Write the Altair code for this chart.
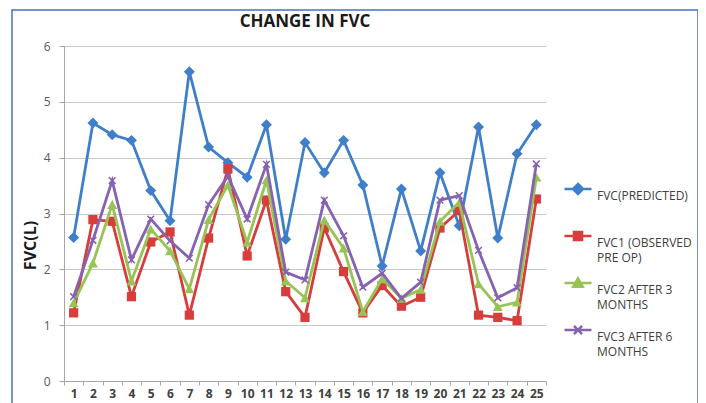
import altair as alt
import pandas as pd

cases = list(range(1, 26))
fvc_pred = [2.57, 4.62, 4.41, 4.31, 3.41, 2.87, 5.54, 4.19, 3.91, 3.65, 4.59, 2.54, 4.27,
            3.73, 4.31, 3.51, 2.06, 3.44, 2.33, 3.73, 2.78, 4.55, 2.56, 4.07, 4.59]
fvc1 = [1.22, 2.89, 2.86, 1.51, 2.49, 2.67, 1.18, 2.56, 3.80, 2.24, 3.24, 1.60, 1.14,
        2.74, 1.96, 1.22, 1.71, 1.34, 1.50, 2.74, 3.05, 1.18, 1.14, 1.08, 3.26]
fvc2 = [1.40, 2.11, 3.16, 1.79, 2.72, 2.33, 1.65, 2.89, 3.51, 2.48, 3.60, 1.79, 1.49,
        2.88, 2.38, 1.24, 1.83, 1.48, 1.64, 2.86, 3.20, 1.74, 1.33, 1.41, 3.65]
fvc3 = [1.51, 2.52, 3.59, 2.17, 2.90, 2.51, 2.20, 3.16, 3.67, 2.90, 3.88, 1.95, 1.81,
        3.24, 2.60, 1.68, 1.93, 1.48, 1.77, 3.24, 3.32, 2.34, 1.49, 1.67, 3.89]

series = ["FVC(PREDICTED)", "FVC1 (OBSERVED PRE OP)", "FVC2 AFTER 3 MONTHS", "FVC3 AFTER 6 MONTHS"]
legend_lines = [["FVC(PREDICTED)", " "], ["FVC1 (OBSERVED", "PRE OP)"],
                ["FVC2 AFTER 3", "MONTHS"], ["FVC3 AFTER 6", "MONTHS"]]
colors = ["#3f7fc9", "#d63d3b", "#97c455", "#8662b1"]
values = [fvc_pred, fvc1, fvc2, fvc3]

rows = []
for s, vals in zip(series, values):
    for c, v in zip(cases, vals):
        rows.append({"case": c, "value": v, "series": s})
df = pd.DataFrame(rows)

font = "Open Sans"

xenc = alt.X(
    "case:O",
    scale=alt.Scale(type="band", paddingInner=0, paddingOuter=0),
    bandPosition=0.5,
    axis=alt.Axis(title=None, labelAngle=0, labelFont=font, labelFontSize=12,
                  labelFontWeight="bold", labelColor="#404040", tickBand="extent",
                  tickSize=4, tickColor="#a6a6a6", domainColor="#a6a6a6", grid=False,
                  labelPadding=3),
)
yenc = alt.Y(
    "value:Q",
    scale=alt.Scale(domain=[0, 6], nice=False, zero=True),
    axis=alt.Axis(values=[0, 1, 2, 3, 4, 5, 6], grid=True, gridColor="#c9c9c9",
                  domainColor="#a6a6a6", tickColor="#a6a6a6", tickSize=5, labelPadding=9,
                  labelColor="#595959", labelFont=font, labelFontSize=12,
                  title="FVC(L)", titleFont=font, titleFontSize=16, titleFontWeight="bold",
                  titleColor="#1a1a1a", titleAngle=270, titleX=-34, titleY=199,
                  titleAlign="center", titleBaseline="middle"),
)

shapes = ["diamond", "square", "triangle-up", "M-1,-1L1,1M-1,1L1,-1"]
sizes = [120, 85, 100, 45]
filled = [True, True, True, False]

layers = []
for i, s in enumerate(series):
    sub = alt.Chart(df).transform_filter(alt.datum.series == s)
    layers.append(sub.mark_line(strokeWidth=2.8, color=colors[i]).encode(x=xenc, y=yenc))
    layers.append(sub.mark_point(shape=shapes[i], size=sizes[i], filled=filled[i], opacity=1,
                                 strokeWidth=1.6, color=colors[i]).encode(x=xenc, y=yenc))

legend_paths = [
    "M-1,-0.52L1,-0.52M0,-0.89L0.37,-0.52L0,-0.15L-0.37,-0.52Z",
    "M-1,-0.52L1,-0.52M-0.3,-0.82L0.3,-0.82L0.3,-0.22L-0.3,-0.22Z",
    "M-1,-0.52L1,-0.52M0,-0.87L0.35,-0.25L-0.35,-0.25Z",
    "M-1,-0.52L1,-0.52M-0.3,-0.82L0.3,-0.22M-0.3,-0.22L0.3,-0.82",
]

expr = "''"
for s, lines in reversed(list(zip(series, legend_lines))):
    arr = "[" + ",".join("'" + l + "'" for l in lines) + "]"
    expr = f"datum.label == '{s}' ? {arr} : ({expr})"

leg = alt.Legend(title=None, orient="none", legendX=499, legendY=135, direction="vertical",
                 labelFont=font, labelFontSize=12, labelColor="#404040", labelOffset=4,
                 rowPadding=9, symbolSize=729, symbolStrokeWidth=2.5, labelExpr=expr,
                 labelLimit=200)

legend_layer = alt.Chart(df).transform_filter("false").mark_point(
    filled=True, opacity=1, size=729, strokeWidth=2.5).encode(
    x=xenc, y=yenc,
    color=alt.Color("series:N", scale=alt.Scale(domain=series, range=colors), legend=leg),
    stroke=alt.Stroke("series:N", scale=alt.Scale(domain=series, range=colors), legend=leg),
    shape=alt.Shape("series:N", scale=alt.Scale(domain=series, range=legend_paths), legend=leg),
)

frame = alt.Chart(pd.DataFrame({"k": [0]})).mark_rect(
    fill=None, stroke="#4472c4", strokeWidth=1.5).encode(
    x=alt.value(-52), x2=alt.value(634), y=alt.value(-36), y2=alt.value(420))

chart = alt.layer(frame, *layers, legend_layer).properties(
    width=482, height=335,
    title=alt.TitleParams("CHANGE IN FVC", font=font, fontSize=17, fontWeight="bold",
                          color="#1a1a1a", anchor="middle", offset=-22),
    autosize=alt.AutoSizeParams(type="none"),
    padding={"left": 56, "top": 38, "right": 152, "bottom": 22},
).configure(
    view=alt.ViewConfig(stroke=None),
    style={"guide-label": {"lineHeight": 15}},
)

chart.save("out.html", embed_options={"renderer": "svg", "actions": False})
